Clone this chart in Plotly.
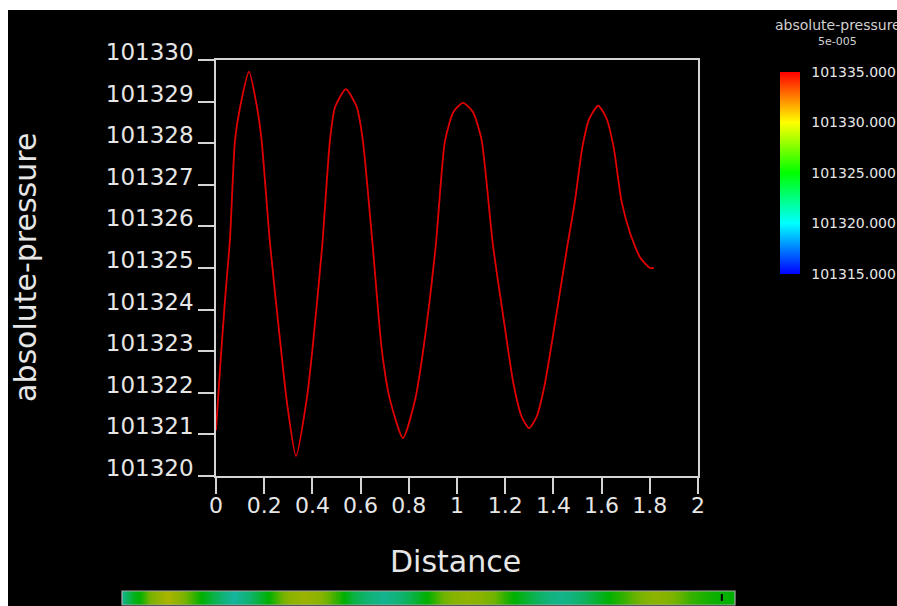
import plotly.graph_objects as go

W, H = 897, 606

# ---- data ----
distance = [0.000, 0.017, 0.037, 0.058, 0.079, 0.100, 0.137, 0.170, 0.189, 0.224,
            0.270, 0.293, 0.332, 0.376, 0.400, 0.441, 0.473, 0.494, 0.539, 0.584,
            0.609, 0.650, 0.688, 0.722, 0.776, 0.826, 0.860, 0.912, 0.950, 0.985,
            1.025, 1.066, 1.102, 1.148, 1.192, 1.234, 1.268, 1.299, 1.331, 1.365,
            1.411, 1.455, 1.490, 1.520, 1.550, 1.586, 1.620, 1.650, 1.683, 1.718,
            1.759, 1.787, 1.800, 1.817]
pressure = [101321.10, 101322.60, 101324.20, 101325.70, 101328.08, 101328.87, 101329.72, 101328.87, 101328.08, 101325.60,
            101323.03, 101321.83, 101320.48, 101321.83, 101323.03, 101325.55, 101328.08, 101328.87, 101329.30, 101328.87,
            101328.08, 101325.55, 101323.03, 101321.83, 101320.91, 101321.83, 101323.03, 101325.55, 101328.05, 101328.75,
            101328.97, 101328.75, 101328.08, 101325.60, 101323.83, 101322.23, 101321.43, 101321.15, 101321.43, 101322.23,
            101323.83, 101325.43, 101326.63, 101327.90, 101328.60, 101328.90, 101328.60, 101327.90, 101326.60, 101325.84,
            101325.26, 101325.07, 101325.00, 101325.00]

x_ticks = [0, 0.2, 0.4, 0.6, 0.8, 1, 1.2, 1.4, 1.6, 1.8, 2]
y_ticks = [101320, 101321, 101322, 101323, 101324, 101325, 101326, 101327, 101328, 101329, 101330]
cbar_ticks = [101315, 101320, 101325, 101330, 101335]
cbar_range = [101315, 101335]
cursor_pos = 1.778

# ---- helpers: window pixel -> paper fraction ----
def px(x):
    return x / W

def py(y):
    return (H - y) / H

axis_col = "#d4d4d4"
text_col = "#e6e6e6"
font_family = "DejaVu Sans"

jet = [[0.0, "#0000ff"], [0.25, "#00ffff"], [0.5, "#00ff00"], [0.75, "#ffff00"], [1.0, "#ff0000"]]
muted = [[0.0, "#2030a8"], [0.25, "#18b4b0"], [0.5, "#00b000"], [0.75, "#b4b400"], [1.0, "#b42020"]]

fig = go.Figure()

fig.add_trace(go.Scatter(
    x=distance, y=pressure, mode="lines",
    line=dict(color="#e00000", width=1.8, shape="spline", smoothing=0.6),
    xaxis="x", yaxis="y", showlegend=False, hoverinfo="skip"))

# invisible trace that only carries the colour bar
fig.add_trace(go.Scatter(
    x=[distance[0]], y=[pressure[0]], mode="markers",
    marker=dict(color=[pressure[0]], opacity=0, cmin=cbar_range[0], cmax=cbar_range[1],
                colorscale=jet, showscale=True,
                colorbar=dict(x=px(780), xanchor="left", xpad=0,
                              y=py(173), yanchor="middle", ypad=0,
                              thickness=20, lenmode="pixels", len=202,
                              outlinewidth=0, ticks="outside", ticklen=9,
                              tickcolor="rgba(0,0,0,0)",
                              tickvals=cbar_ticks, tickformat=".3f",
                              tickfont=dict(family=font_family, size=14, color=text_col))),
    xaxis="x", yaxis="y", showlegend=False, hoverinfo="skip"))

# bottom colour strip
fig.add_trace(go.Heatmap(
    x=distance, y=[0, 1], z=[pressure, pressure],
    colorscale=muted, zmin=cbar_range[0], zmax=cbar_range[1],
    zsmooth="best", showscale=False, xaxis="x2", yaxis="y2", hoverinfo="skip"))

fig.update_layout(
    width=W, height=H,
    margin=dict(l=0, r=0, t=0, b=0),
    paper_bgcolor="black", plot_bgcolor="black",
    font=dict(family=font_family, color=text_col),
    xaxis=dict(domain=[px(216), px(698)], range=[0, 2], tickvals=x_ticks,
               showgrid=False, zeroline=False, showline=True, linecolor=axis_col, linewidth=1.5,
               mirror=True, ticks="outside", ticklen=16, tickwidth=1.5, tickcolor=axis_col,
               ticklabelstandoff=-7,
               tickfont=dict(size=22, color=text_col), automargin=False, anchor="y"),
    yaxis=dict(domain=[py(476), py(60)], range=[101320, 101330], tickvals=y_ticks, tickformat="d",
               showgrid=False, zeroline=False, showline=True, linecolor=axis_col, linewidth=1.5,
               mirror=True, ticks="outside", ticklen=16, tickwidth=1.5, tickcolor=axis_col,
               ticklabelshift=-8, ticklabelstandoff=0,
               tickfont=dict(size=23, color=text_col), automargin=False, anchor="x"),
    xaxis2=dict(domain=[px(122), px(735)], range=[distance[0], distance[-1]], visible=False, anchor="y2"),
    yaxis2=dict(domain=[py(605), py(591)], range=[-0.5, 1.5], visible=False, anchor="x2"),
    shapes=[
        # white page margin at the left and top of the window
        dict(type="rect", xref="paper", yref="paper", x0=0, x1=1.0, y0=py(10), y1=1.0,
             fillcolor="white", line=dict(width=0), layer="below"),
        dict(type="rect", xref="paper", yref="paper", x0=0, x1=px(8), y0=0, y1=1.0,
             fillcolor="white", line=dict(width=0), layer="below"),
        dict(type="rect", xref="paper", yref="paper", x0=px(122), x1=px(735), y0=py(605), y1=py(591),
             fillcolor="rgba(0,0,0,0)", line=dict(color="#a8a8a8", width=1.2), layer="above"),
        dict(type="line", xref="x2", yref="paper", x0=cursor_pos, x1=cursor_pos, y0=py(601), y1=py(594),
             line=dict(color="black", width=2)),
    ],
    annotations=[
        dict(text="Distance", x=px(455), y=py(561), xref="paper", yref="paper", showarrow=False,
             xanchor="center", yanchor="middle", font=dict(size=30, color=text_col)),
        dict(text="absolute-pressure", x=px(25), y=py(268), xref="paper", yref="paper", showarrow=False,
             textangle=-90, xanchor="center", yanchor="middle", font=dict(size=30, color=text_col)),
        dict(text="absolute-pressure", x=px(838), y=py(25), xref="paper", yref="paper", showarrow=False,
             xanchor="center", yanchor="middle", font=dict(size=14, color="#d0d0d0")),
        dict(text="5e-005", x=px(837), y=py(42), xref="paper", yref="paper", showarrow=False,
             xanchor="center", yanchor="middle", font=dict(size=11, color="#d0d0d0")),
    ],
)

page_script = ("document.body.style.margin='0';"
               "document.body.style.overflow='hidden';"
               "document.documentElement.style.overflow='hidden';")

fig.write_html("out.html", default_width=f"{W}px", default_height=f"{H}px",
               post_script=page_script, config={"displayModeBar": False})
